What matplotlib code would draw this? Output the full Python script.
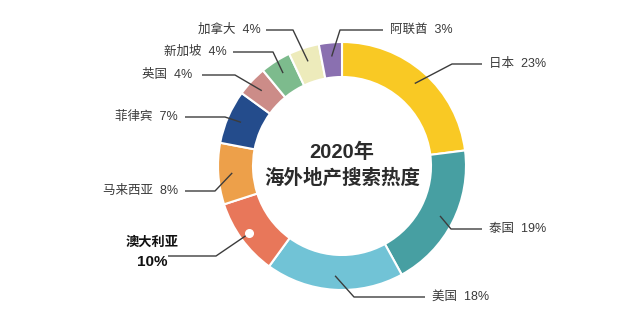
import numpy as np
import matplotlib
matplotlib.use("Agg")
import matplotlib.pyplot as plt

plt.rcParams['font.family'] = ['Liberation Sans', 'Noto Sans CJK SC', 'DejaVu Sans']

# ---- data ----
countries = ["日本", "泰国", "美国", "澳大利亚", "马来西亚", "菲律宾", "英国", "新加坡", "加拿大", "阿联酋"]
shares = [23, 19, 18, 10, 8, 7, 4, 4, 4, 3]
colors = ["#F9C924", "#479FA2", "#71C3D6", "#E8775A", "#EDA04A",
          "#244C8C", "#CC8C88", "#7DBB8D", "#EDEBBB", "#8A70B0"]
title_lines = ["2020年", "海外地产搜索热度"]

# ---- layout (pixel coordinates, y from top) ----
W, H = 617, 329
cx, cy = 342, 166
R_out, R_in = 124, 89
explode_px = {"澳大利亚": 8}
# elbow point, line end, text anchor, alignment
layout = {
    "日本":   ((452, 64), (482, 64), (489, 64), "left"),
    "泰国":   ((451, 229), (482, 229), (489, 229), "left"),
    "美国":   ((354, 297), (425, 297), (432, 297), "left"),
    "澳大利亚": ((216, 256), (168, 256), (152, 252), "center"),
    "马来西亚": ((215, 191), (185, 191), (178, 191), "right"),
    "菲律宾":  ((225, 117), (185, 117), (178, 117), "right"),
    "英国":   ((235, 75), (202, 75), (192, 75), "right"),
    "新加坡":  ((273, 52), (233, 52), (227, 52), "right"),
    "加拿大":  ((293, 30), (266, 30), (261, 30), "right"),
    "阿联酋":  ((340, 30), (383, 30), (390, 30), "left"),
}

def Y(py):
    return H - py

fig = plt.figure(figsize=(W / 100, H / 100), dpi=100)
ax = fig.add_axes([0, 0, 1, 1])
ax.set_xlim(0, W)
ax.set_ylim(0, H)
ax.axis("off")

explode = [explode_px.get(c, 0) / R_out for c in countries]
wedges, _ = ax.pie(shares, colors=colors, startangle=90, counterclock=False,
                   radius=R_out, center=(cx, Y(cy)), explode=explode,
                   wedgeprops=dict(width=R_out - R_in, edgecolor="white", linewidth=1.5))
ax.set_xlim(0, W)
ax.set_ylim(0, H)
ax.set_aspect("equal")

line_col = "#3c3c3c"
text_col = "#3a3a3a"
r_line = 110
for w, name, val in zip(wedges, countries, shares):
    ang = np.deg2rad((w.theta1 + w.theta2) / 2)
    off = explode_px.get(name, 0)
    r = r_line
    if name == "澳大利亚":
        r = R_in + (R_out - R_in) / 2
    sx = cx + (r + off) * np.cos(ang)
    sy = Y(cy) + (r + off) * np.sin(ang)
    (ex, ey), (lx, ly), (tx, ty), ha = layout[name]
    ax.plot([sx, ex, lx], [sy, Y(ey), Y(ly)], color=line_col, lw=1.0, zorder=3,
            solid_capstyle="butt")
    if name == "澳大利亚":
        ax.plot([sx], [sy], marker="o", ms=5.5, mfc="white", mec="white", zorder=4)
        ax.text(tx, Y(ty) + 9, name, ha="center", va="center", fontsize=9.5,
                fontweight="bold", color="#111111")
        ax.text(tx, Y(ty) - 10, f"{val}%", ha="center", va="center", fontsize=11,
                fontweight="bold", color="#111111")
    else:
        ax.text(tx, Y(ty), f"{name}  {val}%", ha=ha, va="center", fontsize=9,
                color=text_col)

ax.text(cx, Y(152), title_lines[0], ha="center", va="center", fontsize=14.5,
        fontweight="bold", color="#2b2b2b")
ax.text(cx, Y(178), title_lines[1], ha="center", va="center", fontsize=14,
        fontweight="bold", color="#2b2b2b")

fig.savefig("out.png", dpi=100)
